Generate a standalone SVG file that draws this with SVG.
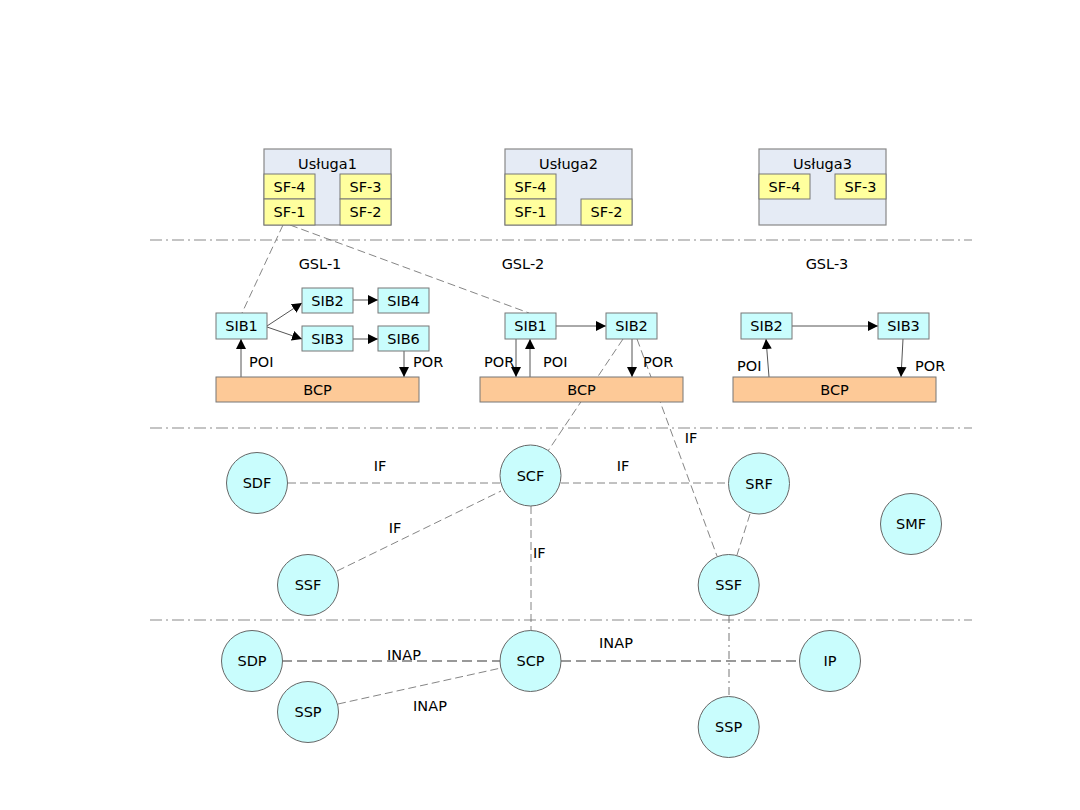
<svg xmlns="http://www.w3.org/2000/svg" width="1080" height="810" viewBox="0 0 1080 810">
<style>
text{font-family:"DejaVu Sans","Liberation Sans",sans-serif;font-size:14.5px;fill:#000;text-anchor:middle;dominant-baseline:central}
.sep{stroke:#8a8a8a;stroke-width:1.2;stroke-dasharray:12,4,2,4;fill:none}
.svc{fill:#e5ebf5;stroke:#888;stroke-width:1.2}
.sf{fill:#ffff9e;stroke:#777;stroke-width:1}
.sib{fill:#c9fdfd;stroke:#777;stroke-width:1}
.bcp{fill:#fdc997;stroke:#777;stroke-width:1}
.node{fill:#c9fdfd;stroke:#666;stroke-width:1}
.dash{stroke:#666;stroke-width:0.8;stroke-dasharray:8,4;fill:none}
.dashg{stroke:#999;stroke-width:1.8;stroke-dasharray:10,5;fill:none}
.dashdot{stroke:#777;stroke-width:1;stroke-dasharray:8,4,2,4;fill:none}
.arr{stroke:#555;stroke-width:1;fill:none;marker-end:url(#ah)}
.lbl{text-anchor:start}
</style>
<defs>
<marker id="ah" viewBox="0 0 10 10" refX="10" refY="5" markerWidth="10" markerHeight="10" markerUnits="userSpaceOnUse" orient="auto">
<path d="M0,0 L10,5 L0,10 z" fill="#000"/>
</marker>
</defs>
<rect width="1080" height="810" fill="#fff"/>
<g id="separators">
<line class="sep" x1="150" y1="240" x2="972" y2="240"/>
<line class="sep" x1="150" y1="428" x2="972" y2="428"/>
<line class="sep" x1="150" y1="620" x2="972" y2="620"/>
</g>
<g id="connectors">
<line class="dash" x1="283" y1="225" x2="242" y2="313"/>
<line class="dash" x1="290" y1="225" x2="529" y2="313"/>
<line class="dash" x1="623" y1="339" x2="548" y2="451"/>
<line class="dash" x1="637" y1="339" x2="717" y2="556"/>
<line class="dash" x1="288" y1="483" x2="500" y2="483"/>
<line class="dash" x1="561" y1="483" x2="729" y2="483"/>
<line class="dash" x1="337" y1="571" x2="501" y2="491"/>
<line class="dash" x1="531" y1="506" x2="531" y2="631"/>
<line class="dash" x1="750" y1="514" x2="737" y2="555"/>
<line class="dashg" x1="282" y1="661" x2="500" y2="661"/>
<line class="dashg" x1="561" y1="661" x2="799" y2="661"/>
<line class="dash" x1="338" y1="704" x2="501" y2="668"/>
<line class="dashdot" x1="729" y1="615" x2="729" y2="697"/>
<line class="arr" x1="267" y1="326" x2="302" y2="303"/>
<line class="arr" x1="267" y1="327" x2="302" y2="339"/>
<line class="arr" x1="353" y1="300" x2="378" y2="300"/>
<line class="arr" x1="353" y1="339" x2="378" y2="339"/>
<line class="arr" x1="241" y1="377" x2="241" y2="339"/>
<line class="arr" x1="404" y1="351" x2="404" y2="377"/>
<line class="arr" x1="556" y1="326" x2="606" y2="326"/>
<line class="arr" x1="516" y1="339" x2="516" y2="377"/>
<line class="arr" x1="530" y1="377" x2="530" y2="339"/>
<line class="arr" x1="632" y1="339" x2="632" y2="377"/>
<line class="arr" x1="792" y1="326" x2="878" y2="326"/>
<line class="arr" x1="769" y1="377" x2="766" y2="339"/>
<line class="arr" x1="903" y1="339" x2="901" y2="377"/>
<text x="380" y="466">IF</text>
<text x="623" y="466">IF</text>
<text x="691" y="438">IF</text>
<text x="395" y="528">IF</text>
<text class="lbl" x="533" y="553">IF</text>
<text x="404" y="655">INAP</text>
<text x="616" y="643">INAP</text>
<text x="430" y="706">INAP</text>
<text class="lbl" x="249" y="362">POI</text>
<text class="lbl" x="413" y="362">POR</text>
<text class="lbl" x="484" y="362">POR</text>
<text class="lbl" x="543" y="362">POI</text>
<text class="lbl" x="643" y="362">POR</text>
<text class="lbl" x="737" y="366">POI</text>
<text class="lbl" x="915" y="366">POR</text>
</g>
<g id="usluga1">
<rect class="svc" x="264" y="149" width="127" height="76"/>
<text x="327.5" y="164">Usługa1</text>
<rect class="sf" x="264" y="174" width="51" height="25"/><text x="289.5" y="186.5">SF-4</text>
<rect class="sf" x="264" y="199" width="51" height="26"/><text x="289.5" y="212">SF-1</text>
<rect class="sf" x="340" y="174" width="51" height="25"/><text x="365.5" y="186.5">SF-3</text>
<rect class="sf" x="340" y="199" width="51" height="26"/><text x="365.5" y="212">SF-2</text>
</g>
<g id="usluga2">
<rect class="svc" x="505" y="149" width="127" height="76"/>
<text x="568.5" y="164">Usługa2</text>
<rect class="sf" x="505" y="174" width="51" height="25"/><text x="530.5" y="186.5">SF-4</text>
<rect class="sf" x="505" y="199" width="51" height="26"/><text x="530.5" y="212">SF-1</text>
<rect class="sf" x="581" y="199" width="51" height="26"/><text x="606.5" y="212">SF-2</text>
</g>
<g id="usluga3">
<rect class="svc" x="759" y="149" width="127" height="76"/>
<text x="822.5" y="164">Usługa3</text>
<rect class="sf" x="759" y="174" width="51" height="25"/><text x="784.5" y="186.5">SF-4</text>
<rect class="sf" x="835" y="174" width="51" height="25"/><text x="860.5" y="186.5">SF-3</text>
</g>
<g id="gsl-labels">
<text x="320" y="264">GSL-1</text>
<text x="523" y="264">GSL-2</text>
<text x="827" y="264">GSL-3</text>
</g>
<g id="gsl1">
<rect class="sib" x="216" y="313" width="51" height="26"/><text x="241.5" y="326">SIB1</text>
<rect class="sib" x="302" y="288" width="51" height="25"/><text x="327.5" y="300.5">SIB2</text>
<rect class="sib" x="378" y="288" width="51" height="25"/><text x="403.5" y="300.5">SIB4</text>
<rect class="sib" x="302" y="326" width="51" height="25"/><text x="327.5" y="338.5">SIB3</text>
<rect class="sib" x="378" y="326" width="51" height="25"/><text x="403.5" y="338.5">SIB6</text>
<rect class="bcp" x="216" y="377" width="203" height="25"/><text x="317.5" y="389.5">BCP</text>
</g>
<g id="gsl2">
<rect class="sib" x="505" y="313" width="51" height="26"/><text x="530.5" y="326">SIB1</text>
<rect class="sib" x="606" y="313" width="51" height="26"/><text x="631.5" y="326">SIB2</text>
<rect class="bcp" x="480" y="377" width="203" height="25"/><text x="581.5" y="389.5">BCP</text>
</g>
<g id="gsl3">
<rect class="sib" x="741" y="313" width="51" height="26"/><text x="766.5" y="326">SIB2</text>
<rect class="sib" x="878" y="313" width="51" height="26"/><text x="903.5" y="326">SIB3</text>
<rect class="bcp" x="733" y="377" width="203" height="25"/><text x="834.5" y="389.5">BCP</text>
</g>
<g id="sdf"><circle class="node" cx="257" cy="483" r="30.5"/><text x="257" y="483">SDF</text></g>
<g id="scf"><circle class="node" cx="530.5" cy="475.5" r="30.5"/><text x="530.5" y="475.5">SCF</text></g>
<g id="srf"><circle class="node" cx="759" cy="483.5" r="30.5"/><text x="759" y="483.5">SRF</text></g>
<g id="smf"><circle class="node" cx="911" cy="524" r="30.5"/><text x="911" y="524">SMF</text></g>
<g id="ssf1"><circle class="node" cx="308" cy="585" r="30.5"/><text x="308" y="585">SSF</text></g>
<g id="ssf2"><circle class="node" cx="728.7" cy="585" r="30.5"/><text x="728.7" y="585">SSF</text></g>
<g id="sdp"><circle class="node" cx="252" cy="661" r="30.5"/><text x="252" y="661">SDP</text></g>
<g id="scp"><circle class="node" cx="530.5" cy="661" r="30.5"/><text x="530.5" y="661">SCP</text></g>
<g id="ip"><circle class="node" cx="830" cy="661" r="30.5"/><text x="830" y="661">IP</text></g>
<g id="ssp1"><circle class="node" cx="308" cy="712" r="30.5"/><text x="308" y="712">SSP</text></g>
<g id="ssp2"><circle class="node" cx="728.7" cy="727" r="30.5"/><text x="728.7" y="727">SSP</text></g>
</svg>
